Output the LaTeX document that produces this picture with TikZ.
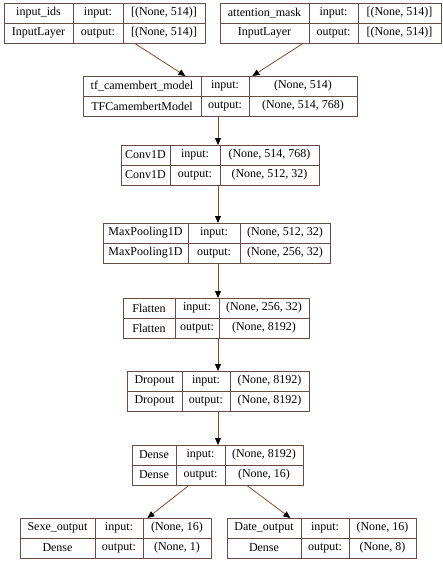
\documentclass[tikz,border=0pt]{standalone}
\usepackage{fontspec}
\setmainfont{Liberation Serif}
\usetikzlibrary{arrows.meta}
\usetikzlibrary{calc}
\definecolor{boxbrown}{RGB}{105,75,65}
\definecolor{edgebrown}{RGB}{130,75,45}

\begin{document}
\begin{tikzpicture}[x=1pt, y=-1pt, % Pixelkoordinaten, y nach unten
    layerbox/.style={draw=boxbrown, line width=0.8pt, inner sep=0pt, anchor=north west},
    cellline/.style={draw=boxbrown, line width=0.8pt},
    celltext/.style={font=\rmfamily\fontsize{12}{14}\selectfont, inner sep=0pt},
    edge/.style={draw=edgebrown, line width=0.8pt, -{Triangle[black,length=7pt,width=6pt]}}]

    % Rahmen der Abbildung
    \useasboundingbox (0,0) rectangle (443,563);

    % Schichten: Name/links/Trenner1/Trenner2/rechts/oben/Bezeichnung/Klasse/Eingang/Ausgang
    \foreach \n/\l/\a/\b/\r/\t/\name/\cls/\in/\out in {
        inp/4/73/123/205/3/{input\_ids}/InputLayer/{[(None, 514)]}/{[(None, 514)]},
        att/220/309/358/441/3/{attention\_mask}/InputLayer/{[(None, 514)]}/{[(None, 514)]},
        cam/83/201/249/357/76/{tf\_camembert\_model}/TFCamembertModel/{(None, 514)}/{(None, 514, 768)},
        conv/121/170/220/319/145/Conv1D/Conv1D/{(None, 514, 768)}/{(None, 512, 32)},
        pool/103/188/240/330/223/MaxPooling1D/MaxPooling1D/{(None, 512, 32)}/{(None, 256, 32)},
        flat/123/175/219/309/298/Flatten/Flatten/{(None, 256, 32)}/{(None, 8192)},
        drop/127/182/230/309/371/Dropout/Dropout/{(None, 8192)}/{(None, 8192)},
        dense/132/176/225/303/445/Dense/Dense/{(None, 8192)}/{(None, 16)},
        sexe/20/95/143/211/518/{Sexe\_output}/Dense/{(None, 16)}/{(None, 1)},
        date/227/301/349/416/518/{Date\_output}/Dense/{(None, 16)}/{(None, 8)}} {
        % Kasten mit Trennlinien
        \node[layerbox, minimum width={\r-\l}, minimum height=40] (\n) at (\l,\t) {};
        \draw[cellline] (\n.west) -- (\n.east);
        \draw[cellline] (\a,\t) -- (\a,\t+40);
        \draw[cellline] (\b,\t) -- (\b,\t+40);
        % Beschriftungen
        \node[celltext] (\n-name) at ({(\l+\a)/2},\t+10) {\name};
        \node[celltext] (\n-cls) at ({(\l+\a)/2},\t+30) {\cls};
        \node[celltext] (\n-inl) at ({(\a+\b)/2},\t+10) {input:};
        \node[celltext] (\n-outl) at ({(\a+\b)/2},\t+30) {output:};
        \node[celltext] (\n-in) at ({(\b+\r)/2},\t+10) {\in};
        \node[celltext] (\n-out) at ({(\b+\r)/2},\t+30) {\out};
    }

    % Verbindungen
    \coordinate (spine) at (218,0);
    \draw[edge] ([xshift=30.5pt]inp.south) -- ([xshift=-35pt]cam.north);
    \draw[edge] ([xshift=-28.5pt]att.south) -- ([xshift=32pt]cam.north);
    \draw[edge] (cam.south -| spine) -- (conv.north -| spine);
    \draw[edge] (conv.south -| spine) -- (pool.north -| spine);
    \draw[edge] (pool.south -| spine) -- (flat.north -| spine);
    \draw[edge] (flat.south -| spine) -- (drop.north -| spine);
    \draw[edge] (drop.south -| spine) -- (dense.north -| spine);
    \draw[edge] ([xshift=-29.5pt]dense.south) -- ([xshift=31.5pt]sexe.north);
    \draw[edge] ([xshift=29.5pt]dense.south) -- ([xshift=-31.5pt]date.north);
\end{tikzpicture}
\end{document}
